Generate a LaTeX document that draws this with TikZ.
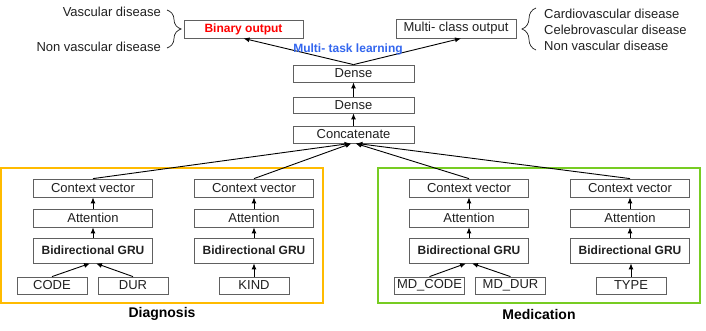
\documentclass[tikz,border=0pt]{standalone}
\usepackage{fontspec}
\setmainfont{Liberation Sans}
\usetikzlibrary{arrows.meta,decorations.pathreplacing}
\definecolor{boxgray}{HTML}{606060}
\definecolor{txtc}{HTML}{202020}
\definecolor{orangeB}{HTML}{FFBB00}
\definecolor{greenB}{HTML}{77CC22}
\definecolor{blueT}{HTML}{3366EE}
\tikzset{
  lay/.style={draw=boxgray, line width=0.8pt, rectangle, inner sep=0pt, text=txtc,
    font=\fontsize{13}{15}\selectfont, minimum width=119pt, minimum height=18pt},
  gru/.style={lay, minimum height=25pt, font=\fontsize{12}{14}\selectfont\bfseries},
  inp/.style={lay, minimum width=70pt, minimum height=17pt},
  mid/.style={lay, minimum width=121pt, minimum height=17pt},
  lbl/.style={inner sep=0pt, text=txtc, font=\fontsize{13}{15}\selectfont},
  grp/.style={inner sep=0pt, text=black, font=\fontsize{14}{16}\selectfont\bfseries},
  arr/.style={-{Latex[length=6pt,width=5pt]}, line width=0.9pt, black},
  brc/.style={decorate, decoration={brace, amplitude=14pt, aspect=0.5}, line width=0.7pt, txtc},
}
\begin{document}
\begin{tikzpicture}[x=1pt,y=-1pt]
\useasboundingbox (0,0) rectangle (706,330);
% group frames
\draw[orangeB, line width=2pt] (1,168) rectangle (323,303);
\draw[greenB, line width=2pt] (378,168) rectangle (700,303);
% top
\node[lay, minimum height=18pt, font=\fontsize{12}{14}\selectfont\bfseries, text=red] (bin) at (243.5,29) {Binary output};
\node[lay, minimum width=120pt, minimum height=19pt] (multi) at (456,28.5) {Multi- class output};
\node[mid] (d1) at (353.5,73.5) {Dense};
\node[mid, minimum height=16pt] (d2) at (353.5,105) {Dense};
\node[mid] (cat) at (353.5,134.5) {Concatenate};
% columns
\foreach \c/\x in {1/93,2/254,3/469,4/630}{
  \node[lay] (ctx\c) at (\x,188) {Context vector};
  \node[lay] (att\c) at (\x,218) {Attention};
  \node[gru] (gru\c) at (\x,250.5) {Bidirectional GRU};
  \draw[arr] (att\c) -- (ctx\c);
  \draw[arr] (gru\c) -- (att\c);
}
\node[inp] (code) at (52,285.5) {CODE};
\node[inp] (dur) at (133,285.5) {DUR};
\node[inp] (kind) at (254,285.5) {KIND};
\node[inp] (mdcode) at (429.5,285.5) {MD\_CODE};
\node[inp] (mddur) at (510.5,285.5) {MD\_DUR};
\node[inp] (type) at (631,285.5) {TYPE};
\draw[arr] (code.north) -- ([xshift=-3pt]gru1.south);
\draw[arr] (dur.north) -- ([xshift=3pt]gru1.south);
\draw[arr] (kind.north) -- (gru2.south);
\draw[arr] (mdcode.north) -- ([xshift=-3pt]gru3.south);
\draw[arr] (mddur.north) -- ([xshift=3pt]gru3.south);
\draw[arr] (type.north) -- (type.north |- gru4.south);
% to concatenate
\draw[arr] (ctx1.north) -- ([xshift=-3pt]cat.south);
\draw[arr] (ctx2.north) -- ([xshift=-2pt]cat.south);
\draw[arr] (ctx3.north) -- ([xshift=2pt]cat.south);
\draw[arr] (ctx4.north) -- ([xshift=3pt]cat.south);
\draw[arr] (cat) -- (d2);
\draw[arr] (d2) -- (d1);
% outputs
\draw[arr] (d1.north) -- (bin.south);
\draw[arr] (d1.north) -- ([xshift=5pt]multi.south);
\node[inner sep=1pt, text=blueT, font=\fontsize{12}{14}\selectfont\bfseries] (mtl) at (348,49) {Multi- task learning};
% braces and labels
\coordinate (lb1) at (167,10);
\coordinate (lb2) at (167,48);
\draw[brc] (lb1) -- (lb2);
\coordinate (rb1) at (536,50);
\coordinate (rb2) at (536,8);
\draw[brc] (rb1) -- (rb2);
\node[lbl, anchor=east] (vd) at (161,12) {Vascular disease};
\node[lbl, anchor=east] (nvd) at (161,47) {Non vascular disease};
\node[lbl, anchor=west] (cvd) at (544,14) {Cardiovascular disease};
\node[lbl, anchor=west] (cbd) at (544,30) {Celebrovascular disease};
\node[lbl, anchor=west] (nvd2) at (544,46) {Non vascular disease};
% group labels
\node[grp] (diag) at (162,314) {Diagnosis};
\node[grp] (med) at (539,314) {Medication};
\end{tikzpicture}
\end{document}
